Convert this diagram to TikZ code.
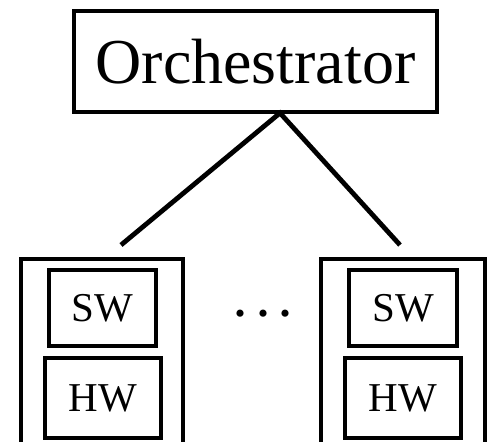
\documentclass[tikz,border=0pt]{standalone}
\usepackage{fontspec}
\setmainfont{Liberation Serif}
\begin{document}
\begin{tikzpicture}[x=1pt,y=1pt,
  box/.style={draw,line width=4.8pt,inner sep=0pt,anchor=center},
  conn/.style={line width=4.8pt},
  lbl/.style={font=\fontsize{41}{45}\selectfont}]
\useasboundingbox (0,0) rectangle (488,-442);
\clip (0,0) rectangle (488,-442);
\node[box,minimum width=363pt,minimum height=101pt,font=\fontsize{64}{70}\selectfont] (orch) at (255.5,-61.5) {Orchestrator};
\coordinate (apex) at (280,-113);
\coordinate (lend) at (121,-245);
\coordinate (rend) at (400,-245);
\draw[conn] (lend) -- (apex) -- (rend);
% left server
\node[box,minimum width=162pt,minimum height=200pt] (lsrv) at (102,-359) {};
\node[box,lbl,minimum width=107pt,minimum height=76pt] (lsw) at (102.5,-308) {SW};
\node[box,lbl,minimum width=116pt,minimum height=80pt] (lhw) at (103,-398) {HW};
% right server
\node[box,minimum width=164pt,minimum height=200pt] (rsrv) at (403,-359) {};
\node[box,lbl,minimum width=108pt,minimum height=76pt] (rsw) at (403,-308) {SW};
\node[box,lbl,minimum width=116pt,minimum height=80pt] (rhw) at (403,-398) {HW};
\node[inner sep=0pt,anchor=base,font=\fontsize{60}{64}\selectfont] (dots) at (263,-333) {·\hspace{3pt}·\hspace{3pt}·};
\end{tikzpicture}
\end{document}
